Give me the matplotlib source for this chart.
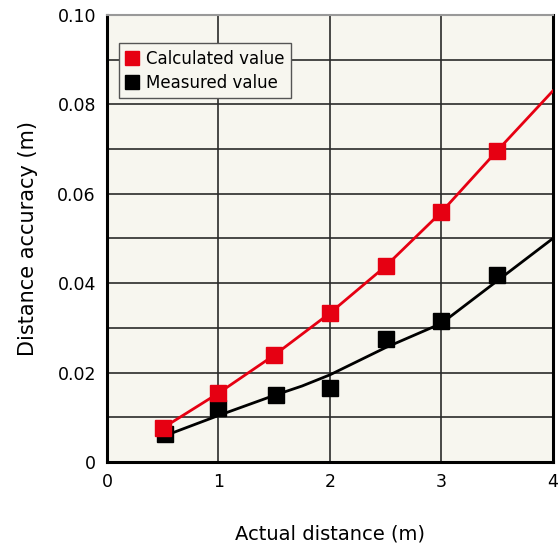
import numpy as np
import matplotlib.pyplot as plt

# measured / calculated points
x_pts = [0.5, 1.0, 1.5, 2.0, 2.5, 3.0, 3.5]
calc_pts = [0.0076, 0.0154, 0.0239, 0.0333, 0.0438, 0.0559, 0.0696]
meas_x = [0.52, 1.0, 1.52, 2.0, 2.5, 3.0, 3.5]
meas_pts = [0.0063, 0.0121, 0.0150, 0.0166, 0.0275, 0.0315, 0.0418]

# fitted curves
calc_curve_x = [0.5, 1.0, 1.5, 2.0, 2.5, 3.0, 3.5, 4.0]
calc_curve_y = [0.0076, 0.0154, 0.0239, 0.0333, 0.0438, 0.0559, 0.0696, 0.0830]
meas_curve_x = [0.5, 1.0, 1.5, 1.75, 2.0, 2.5, 3.0, 3.5, 4.0]
meas_curve_y = [0.0057, 0.0104, 0.0149, 0.0170, 0.0195, 0.0256, 0.0310, 0.0405, 0.0500]

fig = plt.figure(figsize=(5.59, 5.52), dpi=100)
ax = fig.add_axes([0.1914, 0.163, 0.7976, 0.810])
ax.set_facecolor('#f7f6ef')

ax.plot(calc_curve_x, calc_curve_y, color='#e60012', lw=2.0, zorder=3)
ax.plot(meas_curve_x, meas_curve_y, color='black', lw=2.0, zorder=3)
ax.plot(x_pts, calc_pts, 's', color='#e60012', ms=11, zorder=5, label='Calculated value')
ax.plot(meas_x, meas_pts, 's', color='black', ms=11, zorder=4, label='Measured value')

ax.set_xlim(0, 4)
ax.set_ylim(0, 0.10)
ax.set_xticks([0, 1, 2, 3, 4])
ax.set_xticklabels(['0', '1', '2', '3', '4'])
ax.set_yticks(np.arange(0, 0.101, 0.01), minor=False)
ax.set_yticklabels(['0', '', '0.02', '', '0.04', '', '0.06', '', '0.08', '', '0.10'])
ax.grid(True, color='#2a2a2a', lw=1.2, zorder=1)
ax.tick_params(length=0, labelsize=12.5, pad=8)

for s in ['left', 'bottom', 'right']:
    ax.spines[s].set_linewidth(2.2)
ax.spines['top'].set_color('#999999')
ax.spines['top'].set_linewidth(1.5)

ax.set_xlabel('Actual distance (m)', fontsize=14, labelpad=24)
ax.set_ylabel('Distance accuracy (m)', fontsize=15, labelpad=14)

leg = ax.legend(loc='upper left', bbox_to_anchor=(0.027, 0.937), borderaxespad=0,
                fontsize=12, frameon=True, fancybox=False, edgecolor='#555555',
                facecolor='#f7f6ef', framealpha=1, handlelength=0.8,
                handletextpad=0.4, borderpad=0.4, labelspacing=0.35, markerscale=0.9)
leg.get_frame().set_linewidth(1.0)

fig.savefig('out.png', dpi=100)
